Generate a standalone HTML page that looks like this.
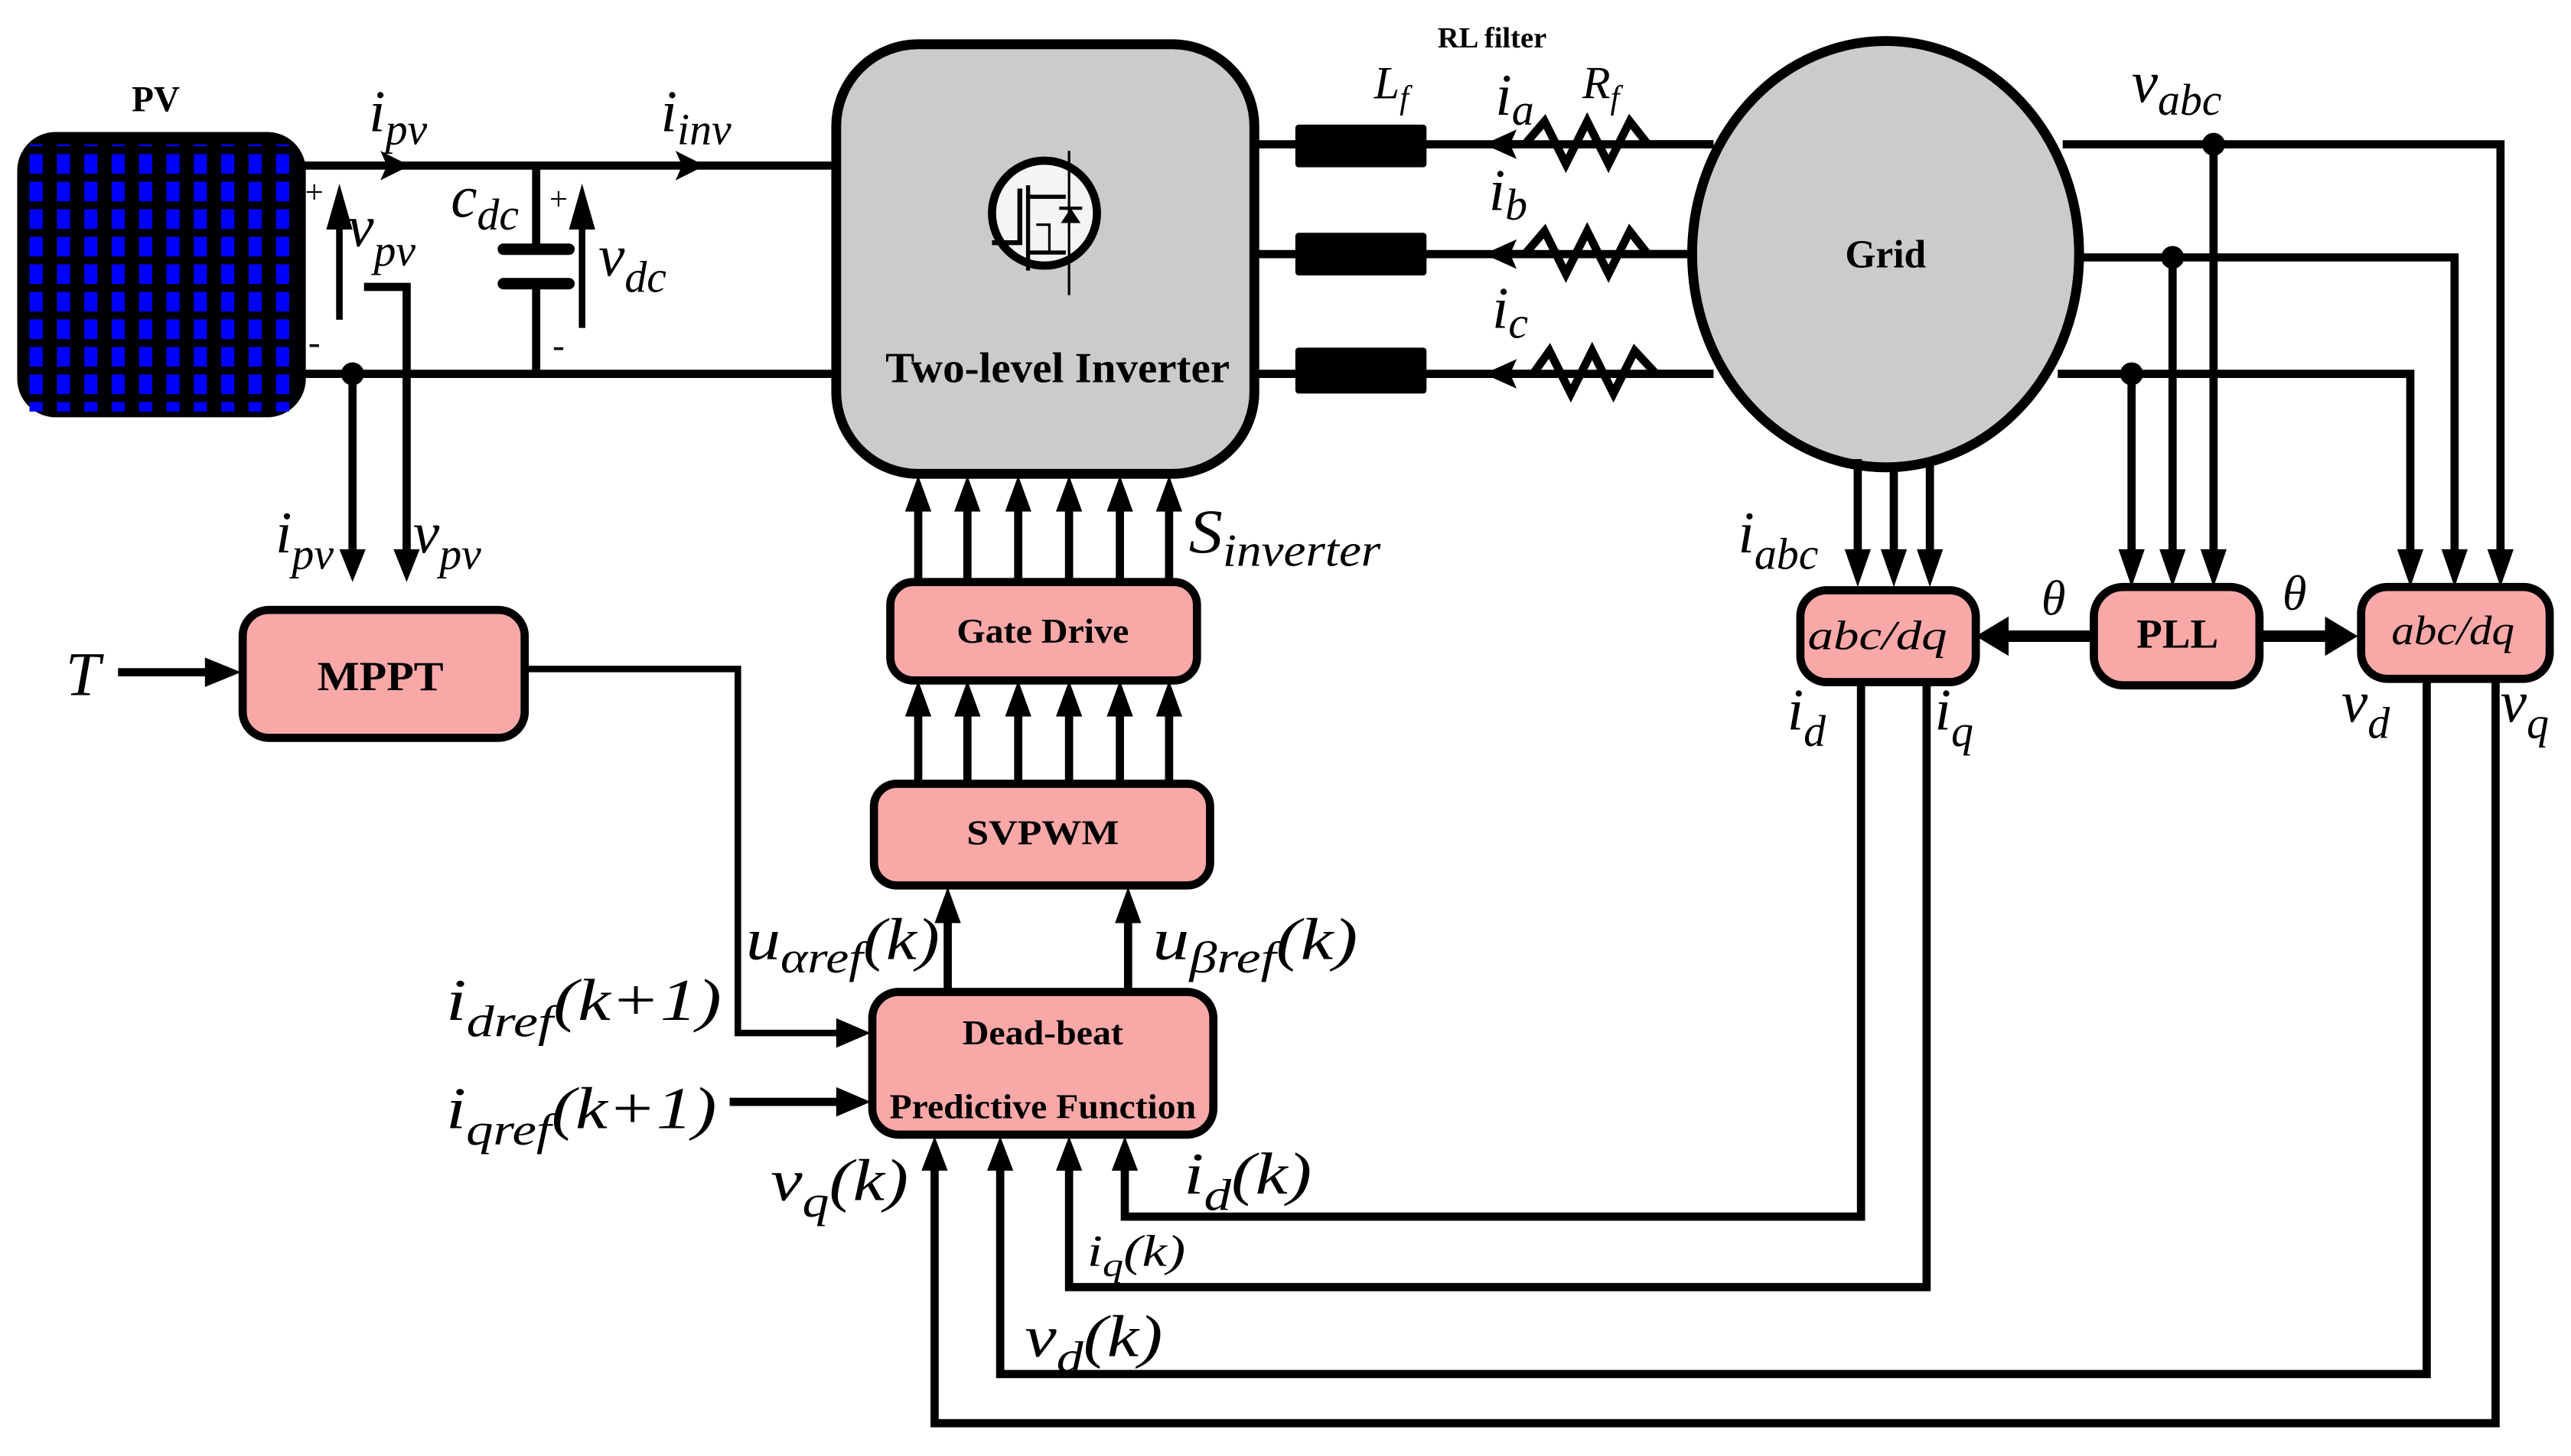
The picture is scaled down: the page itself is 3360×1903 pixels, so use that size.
<!DOCTYPE html>
<html><head><meta charset="utf-8"><style>
html,body{margin:0;padding:0;background:#fff;}
svg{display:block;}
text{font-family:"Liberation Serif",serif;}
.it{font-style:italic;}
.b{font-weight:bold;}
</style></head><body>
<svg width="3360" height="1903" viewBox="0 0 1568 888" preserveAspectRatio="none" xmlns="http://www.w3.org/2000/svg">
<defs>
<pattern id="cells" x="18" y="94" width="16.7" height="16.8" patternUnits="userSpaceOnUse">
<rect x="0" y="0" width="8" height="12" fill="#0000ff"/>
</pattern>
</defs>
<g stroke="#000" fill="none" stroke-width="5">
<rect x="12" y="82" width="173" height="171" rx="22" fill="#000" stroke-width="3"/>
<rect x="17" y="88" width="166" height="163" fill="url(#cells)" stroke="none"/>
<line x1="185" y1="101" x2="512" y2="101"/>
<line x1="185" y1="228" x2="512" y2="228"/>
<line x1="327" y1="101" x2="327" y2="150"/>
<line x1="327" y1="176" x2="327" y2="228"/>
<line x1="307" y1="152" x2="347" y2="152" stroke-width="7" stroke-linecap="round"/>
<line x1="307" y1="173" x2="347" y2="173" stroke-width="7" stroke-linecap="round"/>
<polyline points="222,175 248,175 248,335" stroke-width="5"/>
<line x1="215" y1="228" x2="215" y2="335"/>
<rect x="510" y="27" width="255" height="262" rx="50" fill="#cbcbcb" stroke-width="6"/>
<line x1="765" y1="88" x2="1045" y2="88"/>
<line x1="765" y1="155" x2="1035" y2="155"/>
<line x1="765" y1="228" x2="1045" y2="228"/>
<ellipse cx="1150" cy="155" rx="118" ry="130" fill="#cbcbcb" stroke-width="6"/>
<polyline points="1258,88 1525,88 1525,345"/>
<polyline points="1268,157 1497,157 1497,345"/>
<polyline points="1255,228 1470,228 1470,345"/>
<line x1="1350" y1="88" x2="1350" y2="345"/>
<line x1="1325" y1="157" x2="1325" y2="345"/>
<line x1="1300" y1="228" x2="1300" y2="345"/>
<line x1="1133" y1="280" x2="1133" y2="345"/>
<line x1="1155" y1="284" x2="1155" y2="345"/>
<line x1="1177" y1="280" x2="1177" y2="345"/>
<line x1="1277" y1="388" x2="1220" y2="388" stroke-width="7"/>
<line x1="1378" y1="388" x2="1425" y2="388" stroke-width="7"/>
<line x1="560" y1="355" x2="560" y2="305"/><line x1="590" y1="355" x2="590" y2="305"/>
<line x1="621" y1="355" x2="621" y2="305"/><line x1="652" y1="355" x2="652" y2="305"/>
<line x1="683" y1="355" x2="683" y2="305"/><line x1="713" y1="355" x2="713" y2="305"/>
<line x1="560" y1="478" x2="560" y2="430"/><line x1="590" y1="478" x2="590" y2="430"/>
<line x1="621" y1="478" x2="621" y2="430"/><line x1="652" y1="478" x2="652" y2="430"/>
<line x1="683" y1="478" x2="683" y2="430"/><line x1="713" y1="478" x2="713" y2="430"/>
<line x1="578" y1="605" x2="578" y2="555"/><line x1="688" y1="605" x2="688" y2="555"/>
<polyline points="320,408 450,408 450,630 515,630" stroke-width="4"/>
<line x1="72" y1="410" x2="130" y2="410" stroke-width="5"/>
<line x1="445" y1="672" x2="515" y2="672" stroke-width="5"/>
<polyline points="1135,415 1135,742 686,742 686,708"/>
<polyline points="1175,415 1175,785 652,785 652,708"/>
<polyline points="1480,415 1480,838 610,838 610,708"/>
<polyline points="1522,415 1522,868 570,868 570,708"/>
</g>
<g fill="#000">
<path d="M232,92 L250,101 L232,110 L236,101Z"/>
<path d="M412,92 L430,101 L412,110 L416,101Z"/>
<path d="M199,140 L207,112 L215,140Z"/><rect x="205" y="135" width="4" height="60"/>
<path d="M347,140 L355,112 L363,140Z"/><rect x="353" y="135" width="4" height="65"/>
<path d="M925,79 L905,88 L925,97 L921,88Z"/>
<path d="M925,146 L905,155 L925,164 L921,155Z"/>
<path d="M925,219 L905,228 L925,237 L921,228Z"/>
<path d="M207,335 L215,355 L223,335Z"/>
<path d="M240,335 L248,355 L256,335Z"/>
<path d="M1125,335 L1133,358 L1141,335Z"/><path d="M1147,335 L1155,358 L1163,335Z"/><path d="M1169,335 L1177,358 L1185,335Z"/>
<path d="M1292,335 L1300,358 L1308,335Z"/><path d="M1317,335 L1325,358 L1333,335Z"/><path d="M1342,335 L1350,358 L1358,335Z"/>
<path d="M1462,335 L1470,358 L1478,335Z"/><path d="M1489,335 L1497,358 L1505,335Z"/><path d="M1517,335 L1525,358 L1533,335Z"/>
<path d="M1225,376 L1205,388 L1225,400Z"/><path d="M1418,376 L1438,388 L1418,400Z"/>
<path d="M552,312 L560,290 L568,312Z"/><path d="M582,312 L590,290 L598,312Z"/><path d="M613,312 L621,290 L629,312Z"/>
<path d="M644,312 L652,290 L660,312Z"/><path d="M675,312 L683,290 L691,312Z"/><path d="M705,312 L713,290 L721,312Z"/>
<path d="M552,437 L560,415 L568,437Z"/><path d="M582,437 L590,415 L598,437Z"/><path d="M613,437 L621,415 L629,437Z"/>
<path d="M644,437 L652,415 L660,437Z"/><path d="M675,437 L683,415 L691,437Z"/><path d="M705,437 L713,415 L721,437Z"/>
<path d="M570,563 L578,541 L586,563Z"/><path d="M680,563 L688,541 L696,563Z"/>
<path d="M562,714 L570,693 L578,714Z"/><path d="M602,714 L610,693 L618,714Z"/>
<path d="M644,714 L652,693 L660,714Z"/><path d="M678,714 L686,693 L694,714Z"/>
<path d="M125,401 L147,410 L125,419Z"/>
<path d="M510,621 L531,630 L510,639Z"/><path d="M510,663 L531,672 L510,681Z"/>
<circle cx="215" cy="228" r="7"/><circle cx="1350" cy="88" r="7"/><circle cx="1325" cy="157" r="7"/><circle cx="1300" cy="228" r="7"/>
<rect x="790" y="76" width="80" height="26" rx="2"/>
<rect x="790" y="142" width="80" height="26" rx="2"/>
<rect x="790" y="212" width="80" height="28" rx="2"/>
<text x="186" y="124" font-size="20">+</text><text x="188" y="216" font-size="22">-</text>
<text x="335" y="128" font-size="20">+</text><text x="337" y="218" font-size="22">-</text>
</g>
<g stroke="#000" fill="none" stroke-width="5">
<polyline points="915,88 930,88 942,74 955,100 968,74 981,100 994,74 1005,88 1045,88"/>
<polyline points="915,155 930,155 942,141 955,167 968,141 981,167 994,141 1005,155 1035,155"/>
<polyline points="915,228 935,228 945,214 958,240 971,214 984,240 997,214 1010,228 1045,228"/>
</g>
<g stroke="#000" fill="none">
<circle cx="637" cy="130" r="32" fill="#f4f4f4" stroke-width="5"/>
<line x1="652" y1="92" x2="652" y2="180" stroke-width="1.5"/>
<polyline points="605,148 622,148 622,115" stroke-width="3"/>
<line x1="627" y1="113" x2="627" y2="165" stroke-width="2.5"/>
<polyline points="627,120 650,120" stroke-width="2.5"/>
<polyline points="627,154 650,154" stroke-width="2.5"/>
<polyline points="632,137 640,137 640,154" stroke-width="1.5"/>
<path d="M647,136 L659,136 L653,127Z" fill="#000" stroke="none"/>
<line x1="646" y1="127" x2="660" y2="127" stroke-width="2"/>
</g>
<g stroke="#000" stroke-width="5" fill="#f9a8a8">
<rect x="148" y="372" width="172" height="78" rx="16"/>
<rect x="543" y="355" width="187" height="60" rx="14"/>
<rect x="533" y="478" width="205" height="62" rx="14"/>
<rect x="532" y="605" width="208" height="87" rx="16"/>
<rect x="1098" y="360" width="107" height="56" rx="16"/>
<rect x="1277" y="358" width="101" height="60" rx="18"/>
<rect x="1440" y="358" width="115" height="56" rx="16"/>
</g>
<g fill="#000">
<text x="95" y="68" font-size="22" class="b" text-anchor="middle">PV</text>
<text x="645" y="233" font-size="26" class="b" text-anchor="middle" textLength="210" lengthAdjust="spacingAndGlyphs">Two-level Inverter</text>
<text x="1150" y="163" font-size="24" class="b" text-anchor="middle">Grid</text>
<text x="910" y="29" font-size="18" class="b" text-anchor="middle">RL filter</text>
<text x="232" y="421" font-size="25" class="b" text-anchor="middle" textLength="77" lengthAdjust="spacingAndGlyphs">MPPT</text>
<text x="636" y="392" font-size="21" class="b" text-anchor="middle" textLength="105" lengthAdjust="spacingAndGlyphs">Gate Drive</text>
<text x="636" y="515" font-size="21" class="b" text-anchor="middle" textLength="93" lengthAdjust="spacingAndGlyphs">SVPWM</text>
<text x="636" y="637" font-size="21" class="b" text-anchor="middle" textLength="98" lengthAdjust="spacingAndGlyphs">Dead-beat</text>
<text x="636" y="682" font-size="21" class="b" text-anchor="middle" textLength="187" lengthAdjust="spacingAndGlyphs">Predictive Function</text>
<text x="1328" y="395" font-size="25" class="b" text-anchor="middle" textLength="50" lengthAdjust="spacingAndGlyphs">PLL</text>
<text x="1145" y="396" font-size="25" class="it" text-anchor="middle" textLength="85" lengthAdjust="spacingAndGlyphs">abc/dq</text>
<text x="1496" y="393" font-size="25" class="it" text-anchor="middle" textLength="75" lengthAdjust="spacingAndGlyphs">abc/dq</text>

<g class="it" font-size="36">
<text x="225" y="80">i<tspan font-size="27" dy="8">pv</tspan></text>
<text x="403" y="80">i<tspan font-size="27" dy="8">inv</tspan></text>
<text x="212" y="150">v<tspan font-size="27" dy="12">pv</tspan></text>
<text x="275" y="132">c<tspan font-size="27" dy="8">dc</tspan></text>
<text x="365" y="168">v<tspan font-size="27" dy="10">dc</tspan></text>
<text x="838" y="60" font-family="Liberation Sans" font-size="28">L<tspan font-size="20" dy="6">f</tspan></text>
<text x="912" y="70">i<tspan font-size="27" dy="6">a</tspan></text>
<text x="965" y="60" font-family="Liberation Sans" font-size="28">R<tspan font-size="20" dy="6">f</tspan></text>
<text x="908" y="128">i<tspan font-size="27" dy="6">b</tspan></text>
<text x="910" y="200">i<tspan font-size="27" dy="6">c</tspan></text>
<text x="1300" y="62">v<tspan font-size="27" dy="8">abc</tspan></text>
<text x="1060" y="337">i<tspan font-size="27" dy="10">abc</tspan></text>
<text x="1245" y="375" font-size="30">θ</text>
<text x="1392" y="372" font-size="30">θ</text>
<text x="1090" y="445">i<tspan font-size="27" dy="10">d</tspan></text>
<text x="1180" y="445">i<tspan font-size="27" dy="10">q</tspan></text>
<text x="1428" y="440">v<tspan font-size="27" dy="10">d</tspan></text>
<text x="1525" y="440">v<tspan font-size="27" dy="10">q</tspan></text>
<text x="168" y="337">i<tspan font-size="27" dy="10">pv</tspan></text>
<text x="252" y="337">v<tspan font-size="27" dy="10">pv</tspan></text>
<text x="40" y="424" font-size="38">T</text>
<text x="725" y="337" font-size="38" textLength="117" lengthAdjust="spacingAndGlyphs">S<tspan font-size="28" dy="8">inverter</tspan></text>
<text x="455" y="585" textLength="118" lengthAdjust="spacingAndGlyphs">u<tspan font-size="27" dy="8">αref</tspan><tspan dy="-8">(k)</tspan></text>
<text x="703" y="585" textLength="125" lengthAdjust="spacingAndGlyphs">u<tspan font-size="27" dy="8">βref</tspan><tspan dy="-8">(k)</tspan></text>
<text x="272" y="622" textLength="168" lengthAdjust="spacingAndGlyphs">i<tspan font-size="27" dy="10">dref</tspan><tspan dy="-10">(k+1)</tspan></text>
<text x="272" y="688" textLength="165" lengthAdjust="spacingAndGlyphs">i<tspan font-size="27" dy="10">qref</tspan><tspan dy="-10">(k+1)</tspan></text>
<text x="470" y="732" textLength="84" lengthAdjust="spacingAndGlyphs">v<tspan font-size="27" dy="10">q</tspan><tspan dy="-10">(k)</tspan></text>
<text x="722" y="728" textLength="78" lengthAdjust="spacingAndGlyphs">i<tspan font-size="27" dy="10">d</tspan><tspan dy="-10">(k)</tspan></text>
<text x="663" y="772" font-size="27" textLength="60" lengthAdjust="spacingAndGlyphs">i<tspan font-size="20" dy="6">q</tspan><tspan dy="-6">(k)</tspan></text>
<text x="625" y="827" textLength="84" lengthAdjust="spacingAndGlyphs">v<tspan font-size="27" dy="10">d</tspan><tspan dy="-10">(k)</tspan></text>
</g>
</g>
</svg>
</body></html>
